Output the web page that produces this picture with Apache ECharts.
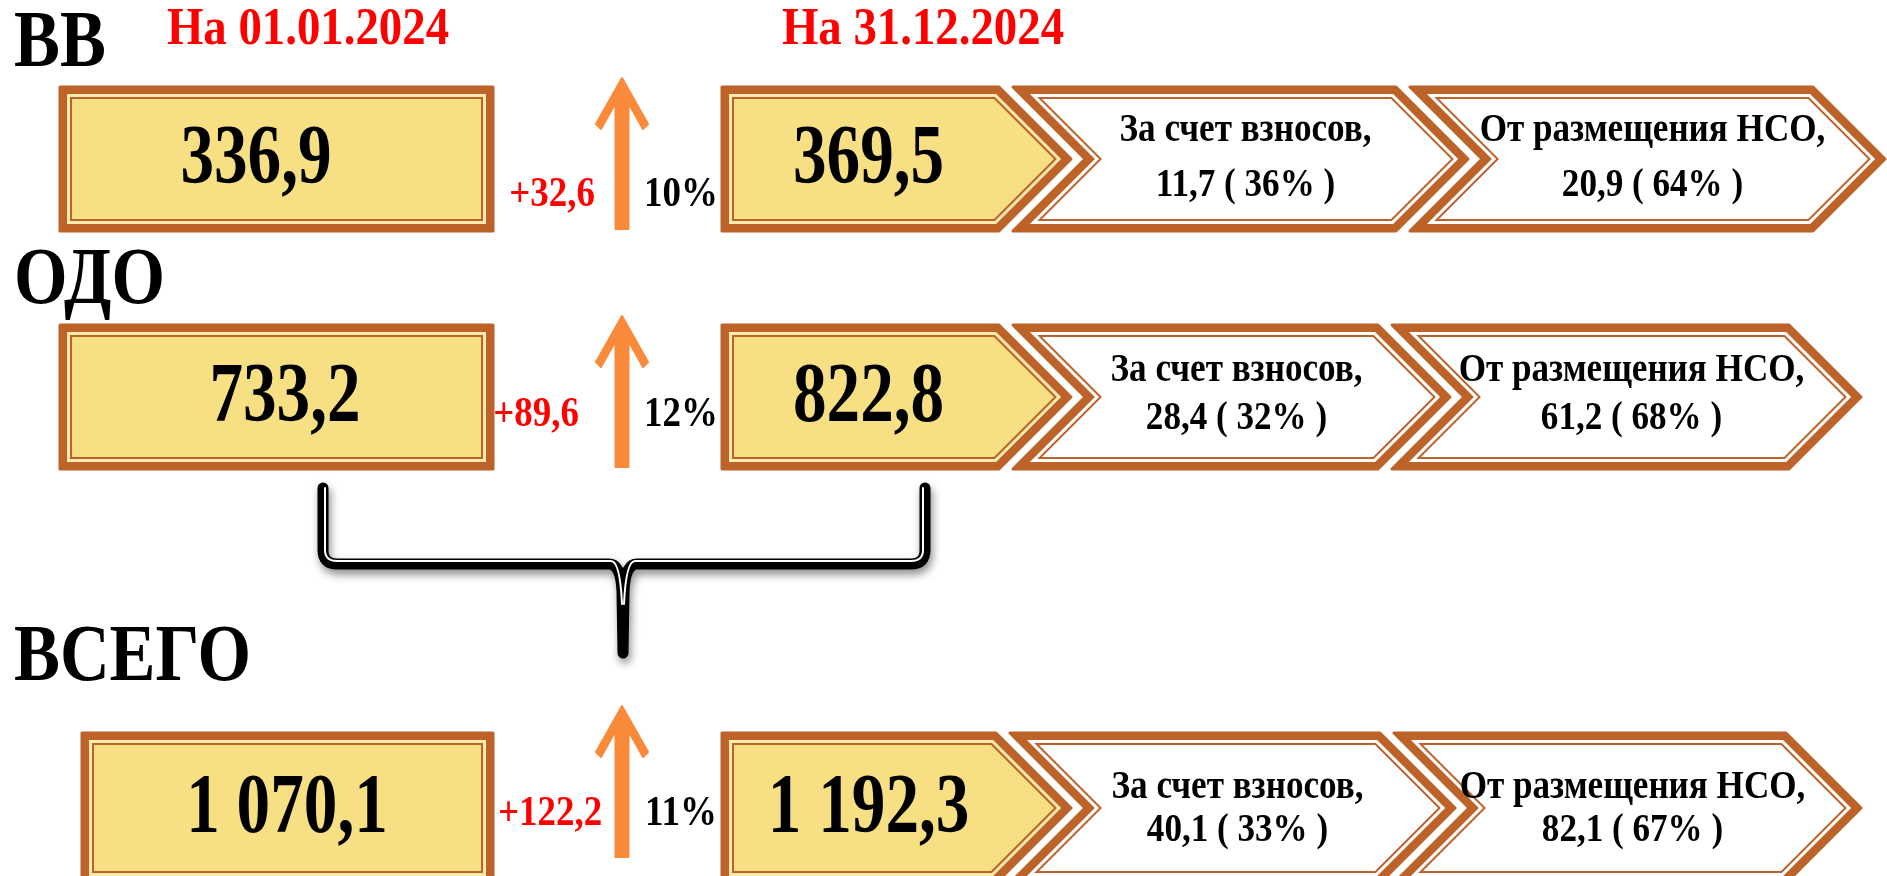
<!DOCTYPE html>
<html>
<head>
<meta charset="utf-8">
<script src="https://cdn.jsdelivr.net/npm/echarts@6.0.0/dist/echarts.min.js"></script>
<style>
  html, body { margin: 0; padding: 0; background: #ffffff; }
  #chart { width: 1887px; height: 876px; }
</style>
</head>
<body>
<div id="chart"></div>
<script>
// data
const groups = ['ВВ', 'ОДО', 'ВСЕГО'];
const dateLabels = ['На 01.01.2024', 'На 31.12.2024'];
const startValues = [336.9, 733.2, 1070.1];
const endValues = [369.5, 822.8, 1192.3];
const increments = [32.6, 89.6, 122.2];
const growthPct = [10, 12, 11];
const sourceLabels = ['За счет взносов,', 'От размещения НСО,'];
const contribValues = [11.7, 28.4, 40.1];
const contribPct = [36, 32, 33];
const nsoValues = [20.9, 61.2, 82.1];
const nsoPct = [64, 68, 67];

// layout, in page pixels (the hidden value axes map them 1:1)
const W = 1887, H = 876;
const rowTop = [87, 325, 733];
const rowH = [144, 144, 150];
const box1Left = [60, 60, 82];
const box1Right = 493;
const box1TextX = [256, 285, 287];
const box2Left = 722;
const box2Tip = 1071;
const chev1Tip = [1468, 1450, 1455];
const chev2Tip = [1885, 1861, 1861];
const gap = 14;
const labelY = [45, 282, 659];
const dateX = [308, 923];
const deltaX = [552, 536, 550];
const deltaY = [195, 415, 814];
const pctX = 681;
const line1Y = [131, 371, 788];
const line2Y = [186, 419, 831];
const arrowX = 622;
const arrowTop = [78, 316, 706];
const arrowBottom = [229, 467, 857];

const BROWN = '#BD6229';
const PALE = '#FBEAAE';
const YELLOW = '#F7DF84';
const WHITE = '#FFFFFF';
const ORANGE = '#F98A3A';
const RED = '#FF0000';
const SERIF = '"Liberation Serif", "Times New Roman", serif';

function fmt(v) {
  const parts = v.toFixed(1).split('.');
  return parts[0].replace(/\B(?=(\d{3})+(?!\d))/g, ' ') + ',' + parts[1];
}

// shrink a polygon inward by dist pixels (miter offset)
function inset(pts, dist) {
  const n = pts.length;
  let area = 0;
  for (let k = 0; k < n; k++) {
    const a = pts[k], b = pts[(k + 1) % n];
    area += a[0] * b[1] - b[0] * a[1];
  }
  const s = area > 0 ? 1 : -1;
  return pts.map((cur, k) => {
    const prev = pts[(k - 1 + n) % n], next = pts[(k + 1) % n];
    const e1 = [cur[0] - prev[0], cur[1] - prev[1]];
    const e2 = [next[0] - cur[0], next[1] - cur[1]];
    const l1 = Math.hypot(e1[0], e1[1]), l2 = Math.hypot(e2[0], e2[1]);
    const n1 = [-e1[1] / l1 * s, e1[0] / l1 * s];
    const n2 = [-e2[1] / l2 * s, e2[0] / l2 * s];
    const p1 = [prev[0] + n1[0] * dist, prev[1] + n1[1] * dist];
    const p2 = [cur[0] + n2[0] * dist, cur[1] + n2[1] * dist];
    const cr = e1[0] * e2[1] - e1[1] * e2[0];
    if (Math.abs(cr) < 1e-9) return [cur[0] + n1[0] * dist, cur[1] + n1[1] * dist];
    const t = ((p2[0] - p1[0]) * e2[1] - (p2[1] - p1[1]) * e2[0]) / cr;
    return [p1[0] + e1[0] * t, p1[1] + e1[1] * t];
  });
}

function framed(pts, band, fill) {
  return [
    { type: 'polygon', shape: { points: pts }, style: { fill: BROWN, stroke: BROWN, lineWidth: 3, lineJoin: 'round' } },
    { type: 'polygon', shape: { points: inset(pts, 7) }, style: { fill: band } },
    { type: 'polygon', shape: { points: inset(pts, 10) }, style: { fill: BROWN } },
    { type: 'polygon', shape: { points: inset(pts, 12) }, style: { fill: fill } }
  ];
}

function label(p, str, size, color, sx, align) {
  return {
    type: 'text', x: p[0], y: p[1], scaleX: sx || 1,
    style: {
      text: str, font: 'bold ' + size + 'px ' + SERIF, fill: color,
      align: align || 'center', verticalAlign: 'middle'
    }
  };
}

function renderDate(params, api) {
  const k = api.value(0);
  return label(api.coord([dateX[k], 31]), dateLabels[k], 52, RED, 0.9);
}

function renderBrace(params, api) {
  const P = (x, y) => api.coord([x, y]);
  const l = P(323, 488), r = P(925, 488), c = P(arrowX + 1, 653);
  const bar = P(0, 564)[1];
  const lx = l[0], rx = r[0], top = l[1], cx = c[0], tip = c[1];
  const black = [
    'M', lx, top, 'L', lx, bar - 14, 'Q', lx, bar, lx + 14, bar, 'L', cx - 14, bar,
    'Q', cx - 2, bar, cx - 1, bar + 28, 'L', cx, tip,
    'M', rx, top, 'L', rx, bar - 14, 'Q', rx, bar, rx - 14, bar, 'L', cx + 14, bar,
    'Q', cx + 2, bar, cx + 1, bar + 28, 'L', cx, tip
  ].join(' ');
  const white = [
    'M', lx + 2, top, 'L', lx + 2, bar - 14, 'Q', lx + 2, bar - 3, lx + 14, bar - 3, 'L', cx - 12, bar - 3,
    'Q', cx - 3, bar - 3, cx - 1, bar + 40,
    'M', rx - 2, top, 'L', rx - 2, bar - 14, 'Q', rx - 2, bar - 3, rx - 14, bar - 3, 'L', cx + 12, bar - 3,
    'Q', cx + 3, bar - 3, cx + 1, bar + 40
  ].join(' ');
  return {
    type: 'group',
    children: [
      { type: 'path', shape: { pathData: black }, style: {
        fill: null, stroke: '#000', lineWidth: 11, lineCap: 'round', lineJoin: 'round',
        shadowBlur: 8, shadowColor: 'rgba(0,0,0,0.45)', shadowOffsetX: 2, shadowOffsetY: 5 } },
      { type: 'path', shape: { pathData: white }, style: {
        fill: null, stroke: '#fff', lineWidth: 2, lineCap: 'round' } }
    ]
  };
}

function renderRow(params, api) {
  const i = api.value(0);
  const P = (x, y) => api.coord([x, y]);
  const top = rowTop[i], h = rowH[i], bot = top + h, mid = top + h / 2, d = h / 2;
  const children = [];

  children.push(label(P(14, labelY[i]), groups[i], 80, '#000', 0.86, 'left'));

  // start value box
  const b1 = [P(box1Left[i], top), P(box1Right, top), P(box1Right, bot), P(box1Left[i], bot)];
  children.push(...framed(b1, PALE, YELLOW));
  children.push(label(P(box1TextX[i], mid + 2), fmt(startValues[i]), 84, '#000', 0.8));

  // growth arrow
  const t = arrowTop[i], b = arrowBottom[i], x = arrowX;
  const arrow = [
    P(x, t), P(x + 26, t + 46), P(x + 21, t + 51), P(x + 6.5, t + 25), P(x + 6.5, b),
    P(x - 6.5, b), P(x - 6.5, t + 25), P(x - 21, t + 51), P(x - 26, t + 46)
  ];
  children.push({ type: 'polygon', shape: { points: arrow },
    style: { fill: ORANGE, stroke: ORANGE, lineWidth: 2, lineJoin: 'round' } });
  children.push(label(P(deltaX[i], deltaY[i]), '+' + fmt(increments[i]), 42, RED, 0.88));
  children.push(label(P(pctX, deltaY[i]), growthPct[i] + '%', 42, '#000', 0.88));

  // end value arrow box
  const b2 = [P(box2Left, top), P(box2Tip - d, top), P(box2Tip, mid), P(box2Tip - d, bot), P(box2Left, bot)];
  children.push(...framed(b2, PALE, YELLOW));
  children.push(label(P(box2Left + 0.42 * (box2Tip - box2Left), mid + 2), fmt(endValues[i]), 84, '#000', 0.8));

  // source chevrons
  const chevron = (prevTip, tipX) => {
    const left = prevTip - d + gap;
    return {
      left: left,
      pts: [P(left, top), P(tipX - d, top), P(tipX, mid), P(tipX - d, bot), P(left, bot), P(left + d, mid)]
    };
  };
  const c1 = chevron(box2Tip, chev1Tip[i]);
  const c2 = chevron(chev1Tip[i], chev2Tip[i]);
  children.push(...framed(c1.pts, WHITE, WHITE));
  children.push(...framed(c2.pts, WHITE, WHITE));

  const c1x = (c1.left + chev1Tip[i]) / 2 + 5;
  const c2x = (c2.left + chev2Tip[i]) / 2 + 5;
  children.push(label(P(c1x, line1Y[i]), sourceLabels[0], 39, '#000', 0.9));
  children.push(label(P(c1x, line2Y[i]), fmt(contribValues[i]) + ' ( ' + contribPct[i] + '% )', 39, '#000', 0.9));
  children.push(label(P(c2x, line1Y[i]), sourceLabels[1], 39, '#000', 0.9));
  children.push(label(P(c2x, line2Y[i]), fmt(nsoValues[i]) + ' ( ' + nsoPct[i] + '% )', 39, '#000', 0.9));

  return { type: 'group', children: children };
}

const chart = echarts.init(document.getElementById('chart'));

const option = {
  animation: false,
  backgroundColor: '#ffffff',
  grid: { left: 0, right: 0, top: 0, bottom: 0 },
  xAxis: { type: 'value', min: 0, max: W, show: false },
  yAxis: { type: 'value', min: 0, max: H, inverse: true, show: false },
  series: [
    { type: 'custom', name: 'dates', silent: true, renderItem: renderDate,
      data: dateLabels.map((s, k) => [k, 0]) },
    { type: 'custom', name: 'brace', silent: true, renderItem: renderBrace,
      data: [[0, 0]] },
    { type: 'custom', name: 'rows', silent: true, renderItem: renderRow,
      data: groups.map((g, k) => [k, 0]) }
  ]
};

chart.setOption(option);
</script>
</body>
</html>
